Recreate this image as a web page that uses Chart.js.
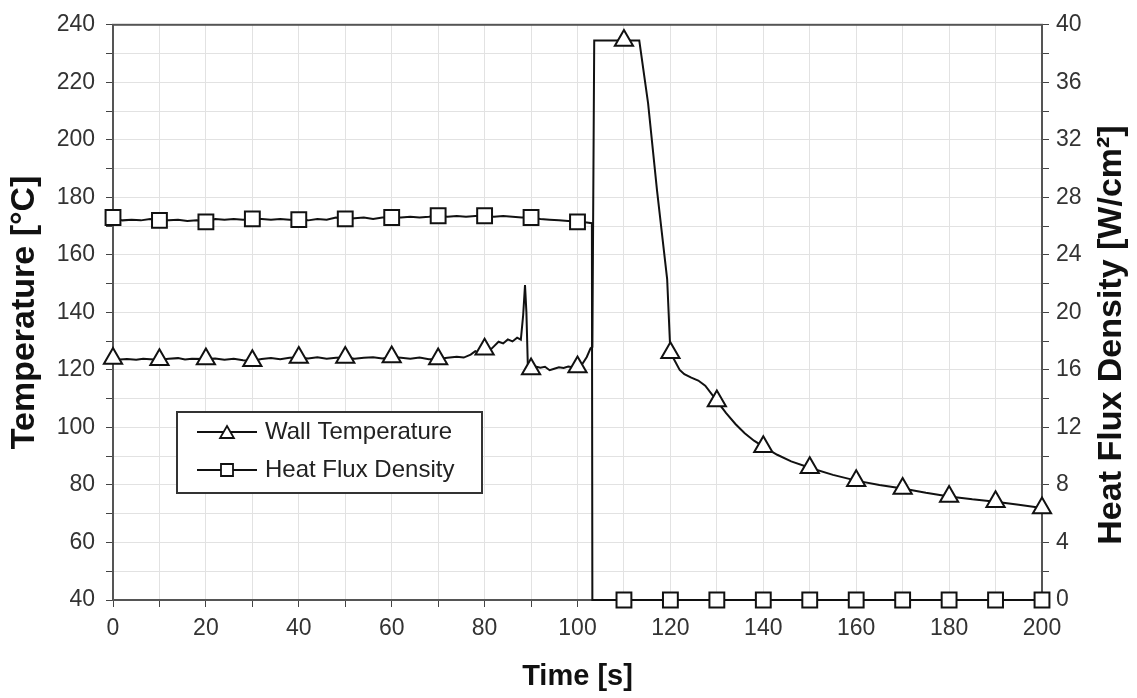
<!DOCTYPE html>
<html>
<head>
<meta charset="utf-8">
<script src="https://cdn.jsdelivr.net/npm/chart.js@4/dist/chart.umd.min.js"></script>
<style>
  body { margin: 0; background: #fff; }
  #wrap { width: 1137px; height: 698px; position: relative; }
</style>
</head>
<body>
<div id="wrap"><canvas id="flowChart"></canvas></div>
<script>
// Wall temperature trace (left axis, °C)
const tempTime = [0, 1.5, 3, 5, 6.5, 8, 10, 12, 14, 15.5, 17, 20, 22, 24, 26, 28, 30, 32, 34, 36, 38, 40,
    42, 44, 46, 48, 50, 52, 54, 56, 58, 60, 62, 64, 66, 68, 70, 72, 74, 75.5, 77, 78, 79, 80, 81, 82, 83, 84,
    85, 86, 87, 87.8, 88.3, 88.7, 89.0, 89.3, 90, 91, 92, 93, 94, 95, 96, 97, 98, 99, 100, 101, 102, 102.8,
    103.2, 103.6, 110, 113.3, 115.2, 117.1, 119.3, 120, 121, 122, 123, 124.5, 126, 127.5, 130, 132, 134,
    136, 138, 140, 143, 146, 150, 155, 160, 165, 170, 175, 180, 185, 190, 195, 200];
const tempValue = [124.0, 123.6, 123.8, 123.5, 123.9, 123.7, 123.5, 123.9, 124.1, 123.6, 123.9, 123.8, 124.0,
    123.5, 123.9, 123.4, 123.2, 123.8, 124.1, 123.7, 124.2, 124.3, 124.0, 124.4, 123.9, 124.2, 124.3, 123.9,
    124.2, 124.4, 124.0, 124.5, 124.2, 123.9, 124.3, 123.7, 123.8, 124.2, 124.6, 124.3, 125.3, 126.5, 125.8,
    127.2, 126.6, 128.2, 129.8, 129.2, 130.6, 129.9, 131.2, 130.5, 139.0, 149.5, 140.0, 122.0, 120.3, 121.2,
    120.8, 121.1, 119.9, 120.4, 120.9, 120.7, 121.2, 120.9, 121.0, 122.0, 124.5, 127.5,
    128.0, 234.5, 234.5, 234.5, 212.7, 182.7, 151.6, 126.0, 123.0, 120.0, 118.5, 117.3, 116.3, 114.5, 109.2,
    105.0, 101.2, 98.0, 95.4, 93.3, 90.5, 88.2, 86.0, 83.5, 81.5, 80.0, 78.8, 77.3, 76.0, 75.0, 74.2, 73.1, 72.0];

// Heat flux density trace (right axis, W/cm²)
const fluxTime = [0, 2, 4, 6, 8, 10, 12, 14, 16, 18, 20, 22, 24, 26, 28, 30, 32, 34, 36, 38, 40, 42, 44, 46,
    48, 50, 52, 54, 56, 58, 60, 62, 64, 66, 68, 70, 72, 74, 76, 78, 80, 82, 84, 86, 88, 90, 92, 94, 96, 98,
    100, 102, 103.1, 103.2, 110, 120, 130, 140, 150, 160, 170, 180, 190, 200];
const fluxValue = [26.6, 26.4, 26.45, 26.4, 26.5, 26.4, 26.4, 26.45, 26.35, 26.4, 26.3, 26.5, 26.45, 26.5,
    26.45, 26.5, 26.5, 26.45, 26.5, 26.45, 26.45, 26.4, 26.5, 26.45, 26.6, 26.5, 26.55, 26.6, 26.5, 26.6,
    26.6, 26.6, 26.65, 26.6, 26.65, 26.72, 26.65, 26.7, 26.65, 26.7, 26.72, 26.65, 26.7, 26.65, 26.6, 26.6,
    26.5, 26.45, 26.4, 26.35, 26.3, 26.25, 26.2, 0, 0, 0, 0, 0, 0, 0, 0, 0, 0, 0];

// Symbols sit on every 10 s
const markerStep = 10;

const tempLabel = 'Wall Temperature';
const fluxLabel = 'Heat Flux Density';
const fluxAxisTitle = 'Heat Flux Density [W/cm²]';

const fontFamily = 'Liberation Sans, Arial, sans-serif';
const tickFont = { family: fontFamily, size: 23 };
const titleFont = { family: fontFamily, size: 34, weight: 'bold' };

function toPoints(times, values) {
    return times.map((t, i) => ({ x: t, y: values[i] }));
}

function markerRadius(size) {
    return ctx => (ctx.raw && ctx.raw.x % markerStep === 0) ? size : 0;
}

const frame = {
    id: 'frame',
    beforeDatasetsDraw(chart) {
        const a = chart.chartArea;
        const c = chart.ctx;
        c.save();
        c.strokeStyle = '#555';
        c.lineWidth = 2;
        c.strokeRect(a.left, a.top, a.right - a.left, a.bottom - a.top);
        c.restore();
    },
    afterDraw(chart) {
        const c = chart.ctx;
        c.save();

        // right axis title, reading bottom to top
        c.translate(1112, 335);
        c.rotate(-Math.PI / 2);
        c.font = `bold ${titleFont.size}px ${fontFamily}`;
        c.fillStyle = '#111';
        c.textAlign = 'center';
        c.textBaseline = 'middle';
        c.fillText(fluxAxisTitle, 0, 0);
        c.setTransform(1, 0, 0, 1, 0, 0);

        // legend box inside the plot
        const left = 177, top = 412, w = 305, h = 81;
        c.textAlign = 'left';
        c.fillStyle = '#fff';
        c.fillRect(left, top, w, h);
        c.strokeStyle = '#333';
        c.lineWidth = 2;
        c.strokeRect(left, top, w, h);
        c.font = `24px ${fontFamily}`;
        chart.data.datasets.forEach((ds, i) => {
            const rowY = top + 20 + i * 38;
            c.strokeStyle = '#111';
            c.lineWidth = 1.8;
            c.beginPath();
            c.moveTo(left + 20, rowY);
            c.lineTo(left + 80, rowY);
            c.stroke();
            c.fillStyle = '#fff';
            Chart.helpers.drawPoint(c, {
                pointStyle: ds.pointStyle, radius: ds.pointStyle === 'rect' ? 8.5 : 8, borderWidth: 1.8
            }, left + 50, rowY + (ds.pointStyle === 'triangle' ? 2 : 0));
            c.fillStyle = '#222';
            c.fillText(ds.label, left + 88, rowY);
        });
        c.restore();
    }
};

function createChart() {
    const ctx = document.getElementById('flowChart').getContext('2d');
    new Chart(ctx, {
        type: 'line',
        data: {
            datasets: [{
                label: tempLabel,
                data: toPoints(tempTime, tempValue),
                yAxisID: 'y',
                borderColor: '#111',
                borderWidth: 2,
                pointStyle: 'triangle',
                pointRadius: markerRadius(10.5),
                pointBackgroundColor: '#fff',
                pointBorderColor: '#111',
                pointBorderWidth: 2,
                clip: false,
                tension: 0
            }, {
                label: fluxLabel,
                data: toPoints(fluxTime, fluxValue),
                yAxisID: 'y2',
                borderColor: '#111',
                borderWidth: 2,
                pointStyle: 'rect',
                pointRadius: markerRadius(10.5),
                pointBackgroundColor: '#fff',
                pointBorderColor: '#111',
                pointBorderWidth: 2,
                clip: false,
                tension: 0
            }]
        },
        options: {
            responsive: true,
            maintainAspectRatio: false,
            animation: false,
            events: [],
            layout: { padding: { top: 21, left: 0, right: 0, bottom: 0 } },
            plugins: {
                legend: { display: false },
                tooltip: { enabled: false }
            },
            scales: {
                x: {
                    type: 'linear',
                    min: 0,
                    max: 200,
                    afterFit: s => { s.height = 98; },
                    ticks: {
                        stepSize: 10,
                        autoSkip: false,
                        maxRotation: 0,
                        padding: 8,
                        color: '#333',
                        font: tickFont,
                        callback: v => (v % 20 === 0 ? v : '')
                    },
                    grid: { color: '#e2e2e2', lineWidth: 1, tickColor: '#444', tickLength: 7 },
                    border: { color: '#444', width: 2 },
                    title: { display: true, text: 'Time [s]', color: '#111', font: { ...titleFont, size: 29 }, padding: { top: 0, bottom: 4 } }
                },
                y: {
                    position: 'left',
                    min: 40,
                    max: 240,
                    afterFit: s => { s.width = 113; },
                    ticks: {
                        stepSize: 10,
                        autoSkip: false,
                        padding: 11,
                        color: '#333',
                        font: tickFont,
                        callback: v => (v % 20 === 0 ? v : '')
                    },
                    grid: { color: '#e2e2e2', lineWidth: 1, tickColor: '#444', tickLength: 7 },
                    border: { color: '#444', width: 2 },
                    title: { display: true, text: 'Temperature [°C]', color: '#111', font: titleFont, padding: { top: 4, bottom: 0 } }
                },
                y2: {
                    position: 'right',
                    min: 0,
                    max: 40,
                    afterFit: s => { s.width = 95; },
                    ticks: {
                        stepSize: 2,
                        autoSkip: false,
                        padding: 7,
                        color: '#333',
                        font: tickFont,
                        callback: v => (v % 4 === 0 ? v : '')
                    },
                    grid: { drawOnChartArea: false, tickColor: '#444', tickLength: 7 },
                    border: { color: '#444', width: 2 },
                    title: { display: false }
                }
            }
        },
        plugins: [frame]
    });
}

createChart();
</script>
</body>
</html>
